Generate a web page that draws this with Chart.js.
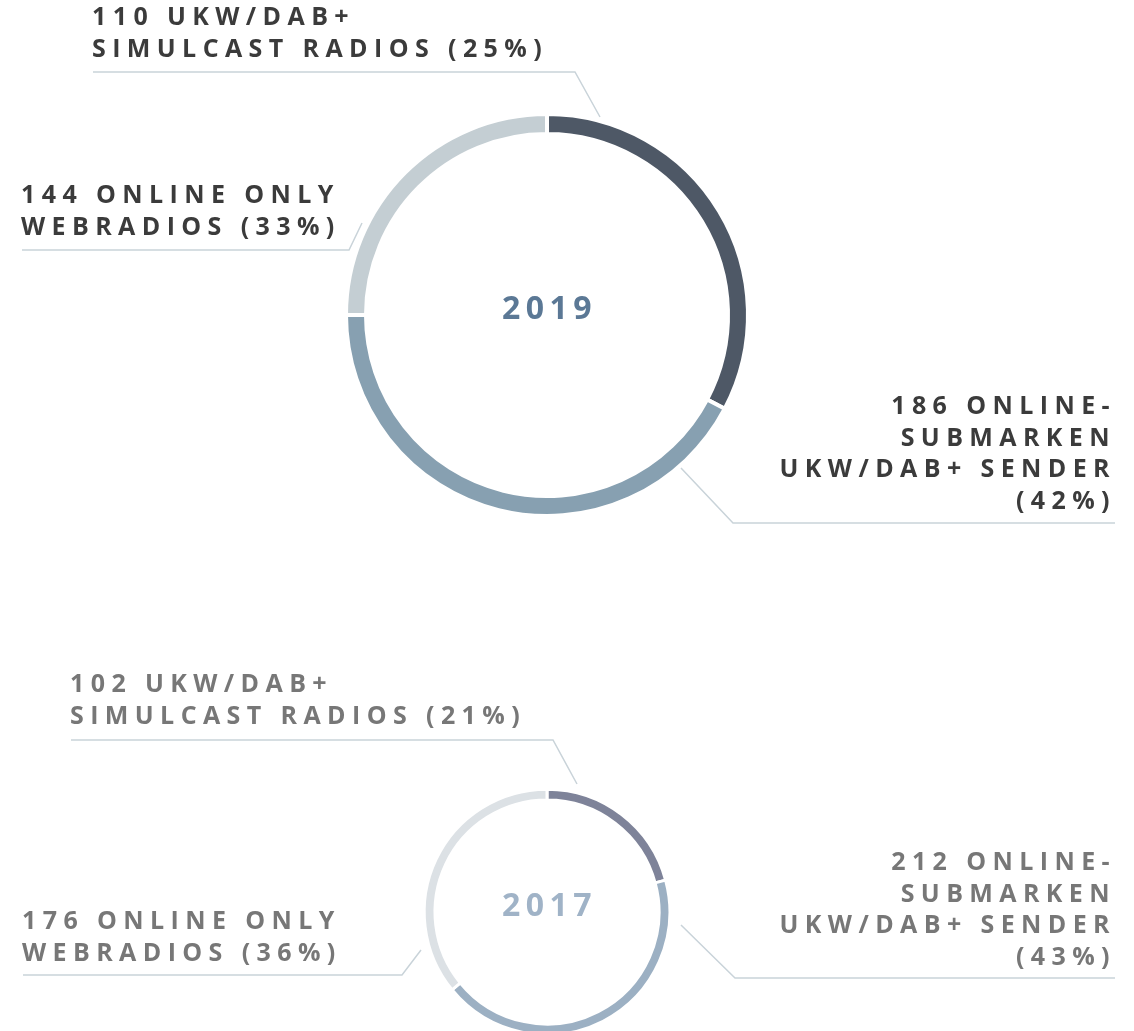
<!DOCTYPE html>
<html>
<head>
<meta charset="utf-8">
<script src="https://cdn.jsdelivr.net/npm/chart.js@4.4.0/dist/chart.umd.min.js"></script>
<style>
html,body{margin:0;padding:0;background:#fff;width:1134px;height:1031px;overflow:hidden;position:relative;}
.lbl{position:absolute;font-family:"Open Sans",sans-serif;font-weight:700;font-size:25px;line-height:31.7px;letter-spacing:6.4px;white-space:nowrap;}
.y19{color:#3b3b3b;}
.y17{color:#777777;}
.r{text-align:right;right:18px;}
.center{position:absolute;left:447px;width:195px;padding-left:5px;text-align:center;font-family:"Open Sans",sans-serif;font-weight:700;font-size:32px;line-height:32px;letter-spacing:5.5px;}
canvas{position:absolute;}
svg{position:absolute;left:0;top:0;}
</style>
</head>
<body>
<canvas id="c2019" width="420" height="420" style="left:337px;top:105px;"></canvas>
<canvas id="c2017" width="260" height="260" style="left:417px;top:782px;"></canvas>

<svg width="1134" height="1031">
  <g fill="none" stroke="#c9d3d9" stroke-width="1.5">
    <polyline points="93,72 575,72 600,117"/>
    <polyline points="22,250 349,250 362,223"/>
    <polyline points="681,468 733,523 1115,523"/>
    <polyline points="71,740 553,740 577,784"/>
    <polyline points="23,975 402,975 421,950"/>
    <polyline points="681,925 735,978 1115,978"/>
  </g>
</svg>

<div class="lbl y19" style="left:92px;top:0px;">110 UKW/DAB+<br>SIMULCAST RADIOS (25%)</div>
<div class="lbl y19" style="left:21px;top:178px;">144 ONLINE ONLY<br>WEBRADIOS (33%)</div>
<div class="lbl y19 r" style="top:389px;">186 ONLINE-<br>SUBMARKEN<br>UKW/DAB+ SENDER<br>(42%)</div>
<div class="center" style="top:291px;color:#5b7895;">2019</div>

<div class="lbl y17" style="left:70px;top:667px;">102 UKW/DAB+<br>SIMULCAST RADIOS (21%)</div>
<div class="lbl y17" style="left:22px;top:904px;">176 ONLINE ONLY<br>WEBRADIOS (36%)</div>
<div class="lbl y17 r" style="top:845px;">212 ONLINE-<br>SUBMARKEN<br>UKW/DAB+ SENDER<br>(43%)</div>
<div class="center" style="top:888px;color:#a0b3c7;">2017</div>

<script>
// 2019 (arcs in drawing order, clockwise from top)
const categories2019 = ['Online only Webradios', 'Online-Submarken UKW/DAB+ Sender', 'UKW/DAB+ Simulcast Radios'];
const values2019 = [144, 186, 110];
const colors2019 = ['#4e5866', '#87a0b1', '#c4ced3'];

// 2017 (arcs in drawing order, clockwise from top)
const categories2017 = ['UKW/DAB+ Simulcast Radios', 'Online-Submarken UKW/DAB+ Sender', 'Online only Webradios'];
const values2017 = [102, 212, 176];
const colors2017 = ['#7e8399', '#9cb0c3', '#dce1e5'];

function ring(id, labels, values, colors, radius, cutout, border) {
  return new Chart(document.getElementById(id), {
    type: 'doughnut',
    data: {
      labels: labels,
      datasets: [{
        data: values,
        backgroundColor: colors,
        borderColor: '#ffffff',
        borderWidth: border,
        hoverOffset: 0
      }]
    },
    options: {
      responsive: false,
      animation: false,
      radius: radius,
      cutout: cutout,
      layout: { padding: 0 },
      plugins: { legend: { display: false }, tooltip: { enabled: false } },
      events: []
    }
  });
}

ring('c2019', categories2019, values2019, colors2019, 201, '90.05%', 4);
ring('c2017', categories2017, values2017, colors2017, 122.8, '91.2%', 3);
</script>
</body>
</html>
